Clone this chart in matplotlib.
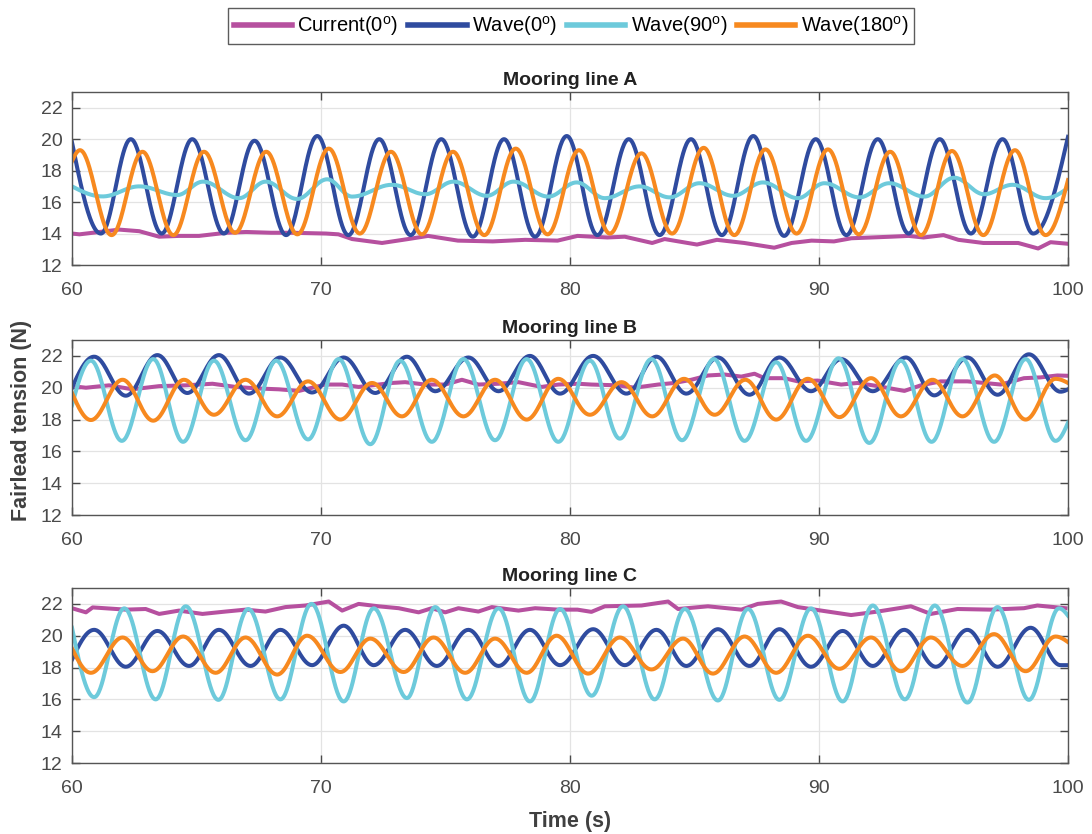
import numpy as np
import matplotlib
matplotlib.use("Agg")
import matplotlib.pyplot as plt

plt.rcParams['font.family'] = ['Liberation Sans', 'DejaVu Sans']
plt.rcParams['mathtext.fontset'] = 'custom'
plt.rcParams['mathtext.rm'] = 'Liberation Sans'
plt.rcParams['mathtext.it'] = 'Liberation Sans'

# ---------------- data ----------------
series_labels = ['Current(0$^{\\mathrm{o}}$)', 'Wave(0$^{\\mathrm{o}}$)',
                 'Wave(90$^{\\mathrm{o}}$)', 'Wave(180$^{\\mathrm{o}}$)']
panel_titles = ['Mooring line A', 'Mooring line B', 'Mooring line C']
x_ticks = [60, 70, 80, 90, 100]
y_ticks = [12, 14, 16, 18, 20, 22]

# Mooring line A
A_cur_t = [60.0, 60.3, 61.9, 62.7, 63.5, 64.3, 65.1, 66.2, 67.0, 68.0, 68.8, 70.2, 70.7, 71.25, 72.45,
           73.5, 74.3, 75.5, 76.9, 78.2, 79.5, 80.3, 81.5, 82.2, 83.3, 83.8, 85.1, 85.9, 87.0, 88.2,
           88.9, 89.7, 90.6, 91.3, 92.9, 93.6, 94.2, 95.0, 95.6, 96.6, 98.0, 98.8, 99.3, 100.0]
A_cur_v = [14.0, 13.95, 14.25, 14.15, 13.8, 13.85, 13.85, 14.05, 14.1, 14.05, 14.05, 14.0, 13.95, 13.65, 13.4,
           13.65, 13.85, 13.55, 13.5, 13.6, 13.55, 13.85, 13.75, 13.8, 13.4, 13.65, 13.3, 13.6, 13.4, 13.1,
           13.4, 13.55, 13.5, 13.7, 13.8, 13.85, 13.75, 13.9, 13.6, 13.4, 13.4, 13.05, 13.45, 13.35]
A_w0_t = [60.0, 61.16, 62.36, 63.6, 64.83, 66.1, 67.33, 68.6, 69.85, 71.1, 72.34, 73.6, 74.83, 76.1,
          77.35, 78.6, 79.87, 81.1, 82.36, 83.6, 84.86, 86.1, 87.36, 88.6, 89.87, 91.1, 92.36, 93.6,
          94.85, 96.1, 97.37, 98.6, 100.0]
A_w0_v = [19.8, 14.0, 20.0, 14.0, 20.0, 14.0, 19.9, 13.9, 20.2, 13.9, 20.0, 13.9, 20.0, 13.8,
          20.0, 13.8, 20.2, 13.9, 20.0, 13.9, 20.0, 13.9, 20.2, 13.85, 20.0, 13.9, 20.0, 14.0,
          20.0, 14.0, 20.0, 14.0, 20.15]
A_w90_t = [60.0, 61.23, 62.7, 64.23, 65.26, 66.71, 67.78, 69.04, 70.25, 71.25, 72.85, 74.19, 75.32,
           76.66, 77.73, 79.13, 80.27, 81.4, 82.8, 84.0, 85.2, 86.55, 87.75, 89.15, 90.22, 91.62,
           92.82, 94.23, 95.43, 96.63, 97.77, 99.1, 100.0]
A_w90_v = [17.0, 16.36, 17.0, 16.45, 17.3, 16.25, 17.3, 16.2, 17.45, 16.35, 17.1, 16.5, 17.3,
           16.4, 17.3, 16.35, 17.25, 16.25, 17.0, 16.3, 17.2, 16.4, 17.25, 16.25, 17.2, 16.3,
           17.2, 16.35, 17.55, 16.5, 17.1, 16.25, 16.9]
A_w180_t = [60.0, 60.32, 61.59, 62.83, 64.07, 65.3, 66.55, 67.8, 69.05, 70.31, 71.56, 72.81, 74.05,
            75.3, 76.56, 77.82, 79.1, 80.36, 81.6, 82.87, 84.1, 85.37, 86.6, 87.85, 89.1, 90.36,
            91.6, 92.86, 94.1, 95.34, 96.6, 97.87, 99.1, 100.0]
A_w180_v = [18.6, 19.3, 13.9, 19.2, 13.9, 19.2, 14.05, 19.2, 13.95, 19.4, 14.0, 19.2, 13.95,
            19.2, 13.9, 19.4, 13.95, 19.3, 14.0, 19.1, 14.0, 19.45, 13.9, 19.35, 14.0, 19.35,
            13.95, 19.2, 13.9, 19.25, 13.9, 19.3, 13.9, 17.4]

# Mooring line B
B_cur_t = [60.0, 60.56, 61.49, 62.43, 63.5, 64.57, 65.64, 66.57, 67.51, 68.31, 69.11, 70.18, 70.85,
           71.51, 72.31, 72.85, 73.38, 74.18, 74.99, 75.66, 76.32, 77.13, 77.93, 78.86, 79.53, 80.33,
           80.86, 81.93, 82.6, 83.54, 84.2, 84.87, 85.54, 86.21, 86.88, 87.41, 87.81, 88.61, 89.15,
           89.95, 90.89, 91.55, 92.36, 93.43, 94.09, 94.89, 95.96, 96.63, 97.3, 98.23, 98.9, 99.57, 100.0]
B_cur_v = [20.1, 20.0, 20.15, 19.9, 20.1, 20.15, 20.25, 20.05, 19.95, 19.9, 19.8, 20.2, 20.2,
           20.05, 20.2, 20.3, 20.35, 20.2, 20.2, 20.5, 20.2, 20.25, 20.35, 20.05, 20.2, 20.25,
           20.2, 20.15, 20.0, 20.2, 20.3, 20.5, 20.77, 20.83, 20.7, 20.88, 20.6, 20.6, 20.4,
           20.45, 20.2, 20.3, 20.1, 19.8, 20.15, 20.4, 20.4, 20.3, 20.2, 20.6, 20.65, 20.77, 20.75]
B_w0_t = [60.0, 60.89, 62.16, 63.43, 64.63, 65.9, 67.11, 68.37, 69.64, 70.91, 72.18, 73.45, 74.59,
          75.92, 77.13, 78.39, 79.6, 80.93, 82.27, 83.47, 84.67, 85.94, 87.21, 88.41, 89.68, 90.89,
          92.16, 93.49, 94.63, 95.96, 97.17, 98.43, 99.7, 100.0]
B_w0_v = [20.0, 21.95, 19.5, 22.05, 19.67, 22.05, 19.63, 21.9, 19.7, 21.9, 19.67, 21.95, 19.78,
          21.9, 19.78, 22.0, 19.63, 22.0, 19.63, 21.95, 19.63, 21.9, 19.56, 21.9, 19.78, 21.8,
          19.78, 21.9, 19.52, 21.9, 19.56, 22.1, 19.75, 19.9]
B_w90_t = [60.0, 60.76, 62.0, 63.26, 64.46, 65.7, 66.97, 68.2, 69.48, 70.71, 71.98, 73.18, 74.45,
           75.72, 76.99, 78.26, 79.53, 80.8, 82.0, 83.27, 84.5, 85.78, 87.01, 88.28, 89.48, 90.79,
           92.02, 93.29, 94.52, 95.76, 97.03, 98.3, 99.5, 100.0]
B_w90_v = [18.9, 21.7, 16.66, 21.8, 16.6, 21.7, 16.7, 21.7, 16.75, 21.8, 16.45, 21.7, 16.6,
           21.8, 16.7, 21.8, 16.6, 21.7, 16.8, 21.8, 16.7, 21.8, 16.66, 21.6, 16.66, 21.85,
           16.53, 21.7, 16.6, 21.8, 16.6, 21.8, 16.66, 17.8]
B_w180_t = [60.0, 60.76, 62.03, 63.26, 64.5, 65.7, 66.97, 68.24, 69.48, 70.78, 72.05, 73.25, 74.45,
            75.72, 76.99, 78.26, 79.53, 80.8, 82.07, 83.3, 84.58, 85.81, 87.04, 88.28, 89.55, 90.82,
            92.09, 93.29, 94.56, 95.76, 97.06, 98.3, 99.5, 100.0]
B_w180_v = [19.67, 17.97, 20.5, 17.93, 20.5, 18.3, 20.5, 18.2, 20.4, 18.0, 20.3, 18.2, 20.5,
            18.2, 20.5, 18.0, 20.56, 18.3, 20.35, 18.2, 20.56, 18.3, 20.5, 18.0, 20.56, 18.15,
            20.6, 18.2, 20.5, 18.2, 20.77, 18.0, 20.56, 20.3]

# Mooring line C
C_cur_t = [60.0, 60.56, 60.83, 62.16, 62.96, 63.5, 64.3, 65.24, 66.17, 66.97, 67.77, 68.57, 69.38,
           70.31, 70.85, 71.51, 72.31, 73.12, 73.92, 74.45, 74.99, 75.52, 76.32, 76.86, 77.93, 78.6,
           79.53, 80.3, 80.86, 81.4, 82.87, 83.94, 84.34, 85.54, 86.88, 87.54, 88.48, 89.15, 90.09,
           91.29, 92.36, 93.69, 94.49, 95.56, 96.9, 98.23, 98.77, 99.9]
C_cur_v = [21.73, 21.47, 21.78, 21.64, 21.68, 21.37, 21.58, 21.37, 21.52, 21.64, 21.52, 21.8, 21.9,
           22.15, 21.58, 22.0, 21.85, 21.73, 21.47, 21.73, 21.47, 21.73, 21.52, 21.8, 21.58, 21.73,
           21.64, 21.64, 21.5, 21.85, 21.9, 22.15, 21.68, 21.85, 21.64, 22.0, 22.15, 21.8, 21.58,
           21.3, 21.52, 21.85, 21.37, 21.68, 21.64, 21.73, 21.9, 21.73]
C_w0_t = [60.0, 60.89, 62.16, 63.43, 64.7, 65.9, 67.17, 68.37, 69.64, 70.91, 72.12, 73.38, 74.65,
          75.92, 77.13, 78.39, 79.6, 80.93, 82.2, 83.47, 84.67, 85.94, 87.21, 88.41, 89.68, 90.95,
          92.16, 93.42, 94.69, 95.96, 97.17, 98.5, 99.7, 100.0]
C_w0_v = [18.5, 20.37, 18.05, 20.3, 18.1, 20.37, 18.1, 20.37, 18.15, 20.63, 18.15, 20.37, 18.1,
          20.37, 18.1, 20.37, 18.15, 20.41, 18.15, 20.37, 18.1, 20.41, 18.1, 20.41, 18.05, 20.3,
          18.1, 20.37, 18.05, 20.37, 18.05, 20.5, 18.15, 18.15]
C_w90_t = [60.0, 60.89, 62.1, 63.36, 64.57, 65.88, 67.08, 68.37, 69.62, 70.91, 72.12, 73.45, 74.59,
           75.86, 77.13, 78.39, 79.6, 80.87, 82.13, 83.4, 84.61, 85.94, 87.15, 88.41, 89.68, 90.95,
           92.16, 93.45, 94.65, 95.96, 97.17, 98.43, 99.64, 100.0]
C_w90_v = [20.5, 16.14, 21.72, 16.0, 21.85, 15.97, 21.68, 16.0, 22.0, 15.87, 21.72, 16.08, 21.8,
           16.0, 21.72, 15.87, 21.68, 16.23, 21.85, 16.0, 21.68, 15.93, 21.68, 15.97, 21.72, 15.87,
           21.9, 16.0, 21.9, 15.8, 21.8, 15.97, 21.72, 21.26]
C_w180_t = [60.0, 60.76, 62.03, 63.23, 64.46, 65.77, 66.97, 68.24, 69.44, 70.78, 71.98, 73.32, 74.52,
            75.79, 76.99, 78.26, 79.46, 80.73, 82.0, 83.27, 84.54, 85.74, 87.01, 88.28, 89.55, 90.82,
            92.09, 93.29, 94.49, 95.76, 97.03, 98.3, 99.5, 100.0]
C_w180_v = [19.2, 17.67, 19.89, 17.77, 19.95, 17.67, 19.89, 17.56, 20.0, 17.72, 19.82, 17.72, 19.89,
            17.67, 19.82, 17.67, 20.0, 17.62, 19.89, 17.88, 19.82, 17.62, 19.95, 17.67, 20.0, 17.92,
            19.89, 17.77, 19.89, 18.1, 20.1, 17.77, 19.95, 19.6]

colors = ['#B6509F', '#2F4B9F', '#6DCADB', '#F7891F']


def smooth_curve(t, v, n=40):
    """Smooth rendering through the read extrema (zero slope at interior points)."""
    t = np.asarray(t, float)
    v = np.asarray(v, float)
    xs, ys = [], []
    last = len(t) - 2
    for i in range(len(t) - 1):
        u = np.linspace(0, 1, n, endpoint=(i == last))
        if i == 0:
            w = np.sin(0.5 * np.pi * u)
        elif i == last:
            w = 1 - np.cos(0.5 * np.pi * u)
        else:
            w = 0.5 * (1 - np.cos(np.pi * u))
        xs.append(t[i] + (t[i + 1] - t[i]) * u)
        ys.append(v[i] + (v[i + 1] - v[i]) * w)
    return np.concatenate(xs), np.concatenate(ys)


panels = [
    [(A_cur_t, A_cur_v), (A_w0_t, A_w0_v), (A_w90_t, A_w90_v), (A_w180_t, A_w180_v)],
    [(B_cur_t, B_cur_v), (B_w0_t, B_w0_v), (B_w90_t, B_w90_v), (B_w180_t, B_w180_v)],
    [(C_cur_t, C_cur_v), (C_w0_t, C_w0_v), (C_w90_t, C_w90_v), (C_w180_t, C_w180_v)],
]

W, H = 1092, 834
fig = plt.figure(figsize=(W / 100, H / 100), dpi=100)
boxes = [(92, 265), (340, 515), (588, 763)]
left_px, right_px = 72, 1068
tick_color = '#4a4a4a'
handles = []
for k, (top, bot) in enumerate(boxes):
    ax = fig.add_axes([left_px / W, 1 - bot / H, (right_px - left_px) / W, (bot - top) / H])
    for j, (t, v) in enumerate(panels[k]):
        if j == 0:
            line, = ax.plot(t, v, color=colors[j], lw=2.9, label=series_labels[j])
        else:
            xs, ys = smooth_curve(t, v)
            line, = ax.plot(xs, ys, color=colors[j], lw=2.9, label=series_labels[j])
        if k == 0:
            handles.append(line)
    ax.set_xlim(60, 100)
    ax.set_ylim(12, 23)
    ax.set_xticks(x_ticks)
    ax.set_yticks(y_ticks)
    ax.grid(True, color='#e3e3e3', lw=0.9)
    ax.set_axisbelow(True)
    ax.tick_params(direction='in', top=True, right=True, length=6, width=1,
                   colors=tick_color, labelsize=14)
    ax.tick_params(axis='x', pad=12)
    ax.tick_params(axis='y', pad=7)
    for s in ax.spines.values():
        s.set_color('#555555')
        s.set_linewidth(1.0)
    ax.set_title(panel_titles[k], fontsize=14, fontweight='bold', pad=5, color='#222222')

fig.text(22 / W, 1 - 420 / H, 'Fairlead tension (N)', rotation=90, ha='center', va='center',
         fontsize=15.5, fontweight='bold', color='#404040')
fig.text(570 / W, 1 - 822 / H, 'Time (s)', ha='center', va='center',
         fontsize=15.5, fontweight='bold', color='#404040')

leg = fig.legend(handles=handles, loc='center', bbox_to_anchor=(571 / W, 1 - 26 / H), ncol=4,
                 frameon=True, fancybox=False, edgecolor='#333333', fontsize=14.5,
                 handlelength=2.9, handletextpad=0.25, columnspacing=0.5, borderpad=0.3,
                 borderaxespad=0)
leg.get_frame().set_linewidth(1.0)
for lh in leg.get_lines():
    lh.set_linewidth(4)

fig.savefig('out.png', dpi=100)
